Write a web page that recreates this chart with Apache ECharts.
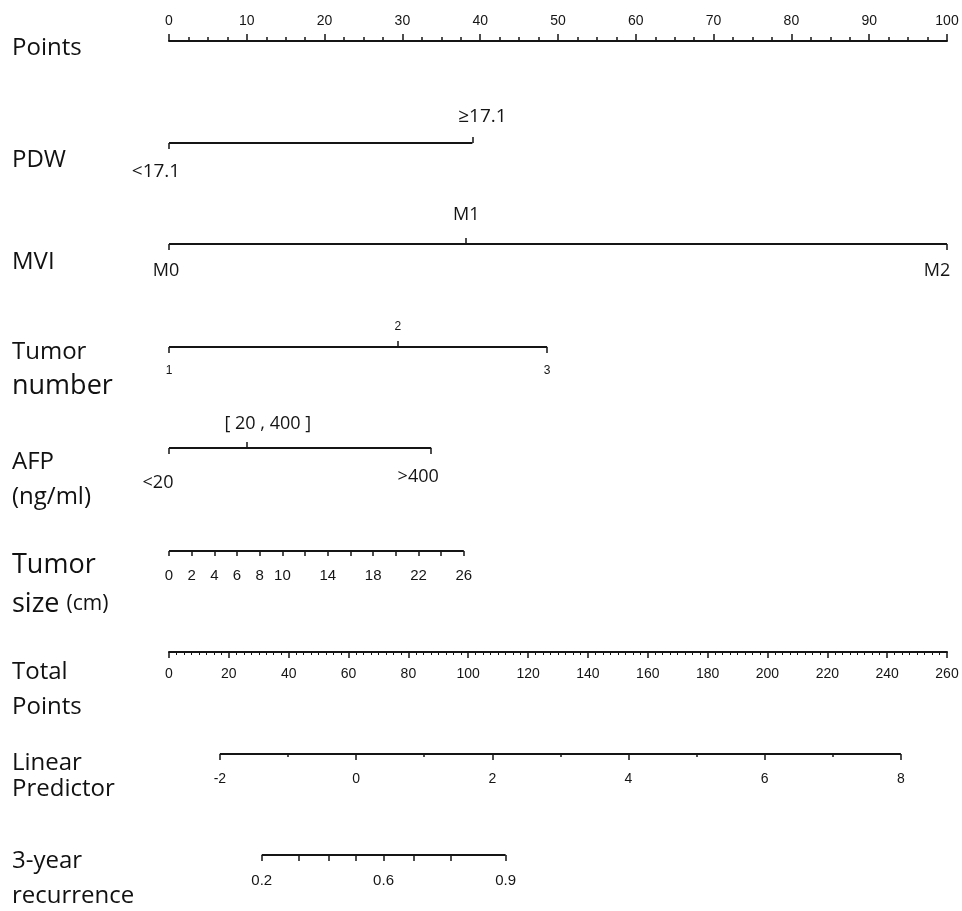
<!DOCTYPE html>
<html>
<head>
<meta charset="utf-8">
<script src="https://cdn.jsdelivr.net/npm/echarts@6/dist/echarts.min.js"></script>
<style>
html, body { margin: 0; padding: 0; background: #fff; }
#nomo { width: 962px; height: 911px; }
</style>
</head>
<body>
<div id="nomo"></div>
<script>
// points scale (0-100)
var pointsMin = 0, pointsMax = 100;

// categorical predictors: labels and the points they get
var pdwLabels = ['<17.1', '≥17.1'];
var pdwPoints = [0, 39];
var mviLabels = ['M0', 'M1', 'M2'];
var mviPoints = [0, 38.2, 100];
var tumorNumLabels = ['1', '2', '3'];
var tumorNumPoints = [0, 29.4, 48.6];
var afpLabels = ['<20', '[ 20 , 400 ]', '>400'];
var afpPoints = [0, 10, 33.7];

// tumor size (cm), linear effect
var sizeTicks = [0, 2, 4, 6, 8, 10, 12, 14, 16, 18, 20, 22, 24, 26];
var sizeLabelTicks = [0, 2, 4, 6, 8, 10, 14, 18, 22, 26];
var sizeMaxPoints = 37.9;

// total points scale
var totalMin = 0, totalMax = 260;

// linear predictor
var lpTicks = [-2, -1, 0, 1, 2, 3, 4, 5, 6, 7, 8];
var lpLabelTicks = [-2, 0, 2, 4, 6, 8];
var lpEnds = [-2, 8];
var lpEndsTotal = [17.0, 244.6];

// 3-year recurrence probability
var riskTicks = [0.2, 0.3, 0.4, 0.5, 0.6, 0.7, 0.8, 0.9];
var riskTotal = [31.0, 43.2, 53.3, 62.5, 71.7, 81.8, 94.1, 112.5];
var riskLabelTicks = [0.2, 0.6, 0.9];

var ink = '#151515';
var grids = [], xAxes = [], yAxes = [], series = [], graphics = [];

function lpToTotal(lp) {
    return lpEndsTotal[0] + (lp - lpEnds[0]) * (lpEndsTotal[1] - lpEndsTotal[0]) / (lpEnds[1] - lpEnds[0]);
}
function sizeToPoints(s) {
    return s * sizeMaxPoints / sizeTicks[sizeTicks.length - 1];
}
function lookup(pos, names, v) {
    var best = 0;
    for (var i = 0; i < pos.length; i++) {
        if (Math.abs(pos[i] - v) < Math.abs(pos[best] - v)) best = i;
    }
    return names[best];
}

function newGrid(y) {
    var g = grids.length;
    grids.push({ left: 169, right: 15, top: y, height: 0 });
    yAxes.push({ gridIndex: g, type: 'value', min: 0, max: 1, show: false });
    return g;
}

// one side of a row: ticks + labels at given positions
function sideAxis(g, side, min, max, pos, names, o) {
    var rich = {}, keys = {};
    names.forEach(function (n, i) {
        var dx = (o.shift && o.shift[n]) || 0;
        var dy = (o.lift && o.lift[n]) || 0;
        var k = 'k' + i;
        keys[n] = k;
        rich[k] = {
            fontSize: o.fontSize, fontFamily: o.font, color: ink,
            padding: [side === 'bottom' ? dy : 0, dx < 0 ? -2 * dx : 0,
                      side === 'top' ? dy : 0, dx > 0 ? 2 * dx : 0]
        };
    });
    xAxes.push({
        gridIndex: g, type: 'value', position: side, min: min, max: max,
        axisLine: { show: false }, splitLine: { show: false },
        axisTick: {
            show: pos.length > 0, customValues: pos, length: o.tickLen || 6,
            lineStyle: { color: ink, width: 1.5 }
        },
        axisLabel: {
            show: !o.noLabel && pos.length > 0, customValues: o.labelPos || pos,
            margin: o.margin, fontSize: o.fontSize, fontFamily: o.font, color: ink,
            formatter: function (v) {
                var n = lookup(o.labelPos || pos, o.labelNames || names, v);
                return '{' + (keys[n] || 'k0') + '|' + n + '}';
            },
            rich: rich
        }
    });
    return xAxes.length - 1;
}

function rowLine(g, xi, a, b) {
    series.push({
        type: 'line', xAxisIndex: xi, yAxisIndex: g, data: [[a, 0], [b, 0]],
        symbol: 'none', silent: true, lineStyle: { color: ink, width: 2 }
    });
}

function categoricalRow(y, labels, pts, upIdx, o) {
    var g = newGrid(y);
    var up = upIdx.map(function (i) { return pts[i]; });
    var upN = upIdx.map(function (i) { return labels[i]; });
    var dn = [], dnN = [];
    pts.forEach(function (p, i) { if (upIdx.indexOf(i) < 0) { dn.push(p); dnN.push(labels[i]); } });
    sideAxis(g, 'top', pointsMin, pointsMax, up, upN, { fontSize: o.fontSize, font: o.font, margin: o.upMargin, shift: o.shift, lift: o.lift });
    var xb = sideAxis(g, 'bottom', pointsMin, pointsMax, dn, dnN, { fontSize: o.fontSize, font: o.font, margin: o.dnMargin, shift: o.shift, lift: o.lift });
    rowLine(g, xb, Math.min.apply(null, pts), Math.max.apply(null, pts));
}

// ---- Points ----
(function () {
    var g = newGrid(41);
    xAxes.push({
        gridIndex: g, type: 'value', position: 'top', min: pointsMin, max: pointsMax, interval: 10,
        axisLine: { lineStyle: { color: ink, width: 2 } },
        axisTick: { length: 7, lineStyle: { color: ink, width: 1.5 } },
        minorTick: { show: true, splitNumber: 4, length: 4, lineStyle: { color: ink, width: 1.5 } },
        splitLine: { show: false },
        axisLabel: { margin: 13, fontSize: 14, fontFamily: 'Liberation Sans', color: ink }
    });
})();

categoricalRow(143, pdwLabels, pdwPoints, [1], {
    fontSize: 19, font: 'Open Sans', upMargin: 17, dnMargin: 19,
    shift: { '<17.1': -13, '≥17.1': 10 }
});
categoricalRow(244, mviLabels, mviPoints, [1], {
    fontSize: 18, font: 'Open Sans', upMargin: 20, dnMargin: 18,
    shift: { 'M0': -3, 'M2': -10 }
});
categoricalRow(347, tumorNumLabels, tumorNumPoints, [1], {
    fontSize: 12, font: 'Liberation Sans', upMargin: 14, dnMargin: 18
});
categoricalRow(448, afpLabels, afpPoints, [1], {
    fontSize: 18, font: 'Open Sans', upMargin: 15, dnMargin: 20,
    shift: { '<20': -11, '[ 20 , 400 ]': 21, '>400': -13 },
    lift: { '<20': 6 }
});

// ---- Tumor size ----
(function () {
    var g = newGrid(551);
    var pos = sizeTicks.map(sizeToPoints);
    var lpos = sizeLabelTicks.map(sizeToPoints);
    var xb = sideAxis(g, 'bottom', pointsMin, pointsMax, pos, sizeTicks.map(String), {
        fontSize: 15, font: 'Liberation Sans', margin: 17, tickLen: 5,
        labelPos: lpos, labelNames: sizeLabelTicks.map(String)
    });
    rowLine(g, xb, 0, sizeToPoints(sizeTicks[sizeTicks.length - 1]));
})();

// ---- Total Points ----
(function () {
    var g = newGrid(652);
    xAxes.push({
        gridIndex: g, type: 'value', position: 'bottom', min: totalMin, max: totalMax, interval: 20,
        axisLine: { lineStyle: { color: ink, width: 2 } },
        axisTick: { length: 6, lineStyle: { color: ink, width: 1.5 } },
        minorTick: { show: true, splitNumber: 8, length: 3, lineStyle: { color: ink, width: 1 } },
        splitLine: { show: false },
        axisLabel: { margin: 15, fontSize: 14, fontFamily: 'Liberation Sans', color: ink }
    });
})();

// ---- Linear Predictor ----
(function () {
    var g = newGrid(754);
    var major = lpTicks.filter(function (v) { return lpLabelTicks.indexOf(v) >= 0; });
    var minor = lpTicks.filter(function (v) { return lpLabelTicks.indexOf(v) < 0; });
    var xb = sideAxis(g, 'bottom', totalMin, totalMax, major.map(lpToTotal), major.map(String), {
        fontSize: 14, font: 'Liberation Sans', margin: 18, tickLen: 6
    });
    rowLine(g, xb, lpToTotal(lpEnds[0]), lpToTotal(lpEnds[1]));
    var g2 = newGrid(754);
    sideAxis(g2, 'bottom', totalMin, totalMax, minor.map(lpToTotal), minor.map(String), {
        fontSize: 14, font: 'Liberation Sans', margin: 18, tickLen: 3, noLabel: true
    });
})();

// ---- 3-year recurrence ----
(function () {
    var g = newGrid(855);
    var lpos = riskLabelTicks.map(function (r) { return riskTotal[riskTicks.indexOf(r)]; });
    var xb = sideAxis(g, 'bottom', totalMin, totalMax, riskTotal, riskTicks.map(String), {
        fontSize: 15, font: 'Liberation Sans', margin: 18, tickLen: 6,
        labelPos: lpos, labelNames: riskLabelTicks.map(String)
    });
    rowLine(g, xb, riskTotal[0], riskTotal[riskTotal.length - 1]);
})();

// row titles
function title(y, text, size, rich) {
    graphics.push({
        type: 'text', x: 12, y: y,
        style: {
            text: text, fontSize: size || 24, fontFamily: 'Open Sans', fill: '#111',
            verticalAlign: 'middle', rich: rich
        }
    });
}
title(48, 'Points');
title(160, 'PDW');
title(262, 'MVI');
title(352, 'Tumor');
title(386, 'number', 27);
title(462, 'AFP');
title(497, '(ng/ml)');
title(565, 'Tumor', 27);
title(604, '{a|size} {b|(cm)}', 27, {
    a: { fontSize: 27, fontFamily: 'Open Sans', fill: '#111' },
    b: { fontSize: 21, fontFamily: 'Open Sans', fill: '#111' }
});
title(672, 'Total');
title(707, 'Points');
title(763, 'Linear');
title(789, 'Predictor');
title(861, '3-year');
title(896, 'recurrence');

var chart = echarts.init(document.getElementById('nomo'));
chart.setOption({
    animation: false,
    backgroundColor: '#fff',
    grid: grids,
    xAxis: xAxes,
    yAxis: yAxes,
    series: series,
    graphic: graphics
});
</script>
</body>
</html>
